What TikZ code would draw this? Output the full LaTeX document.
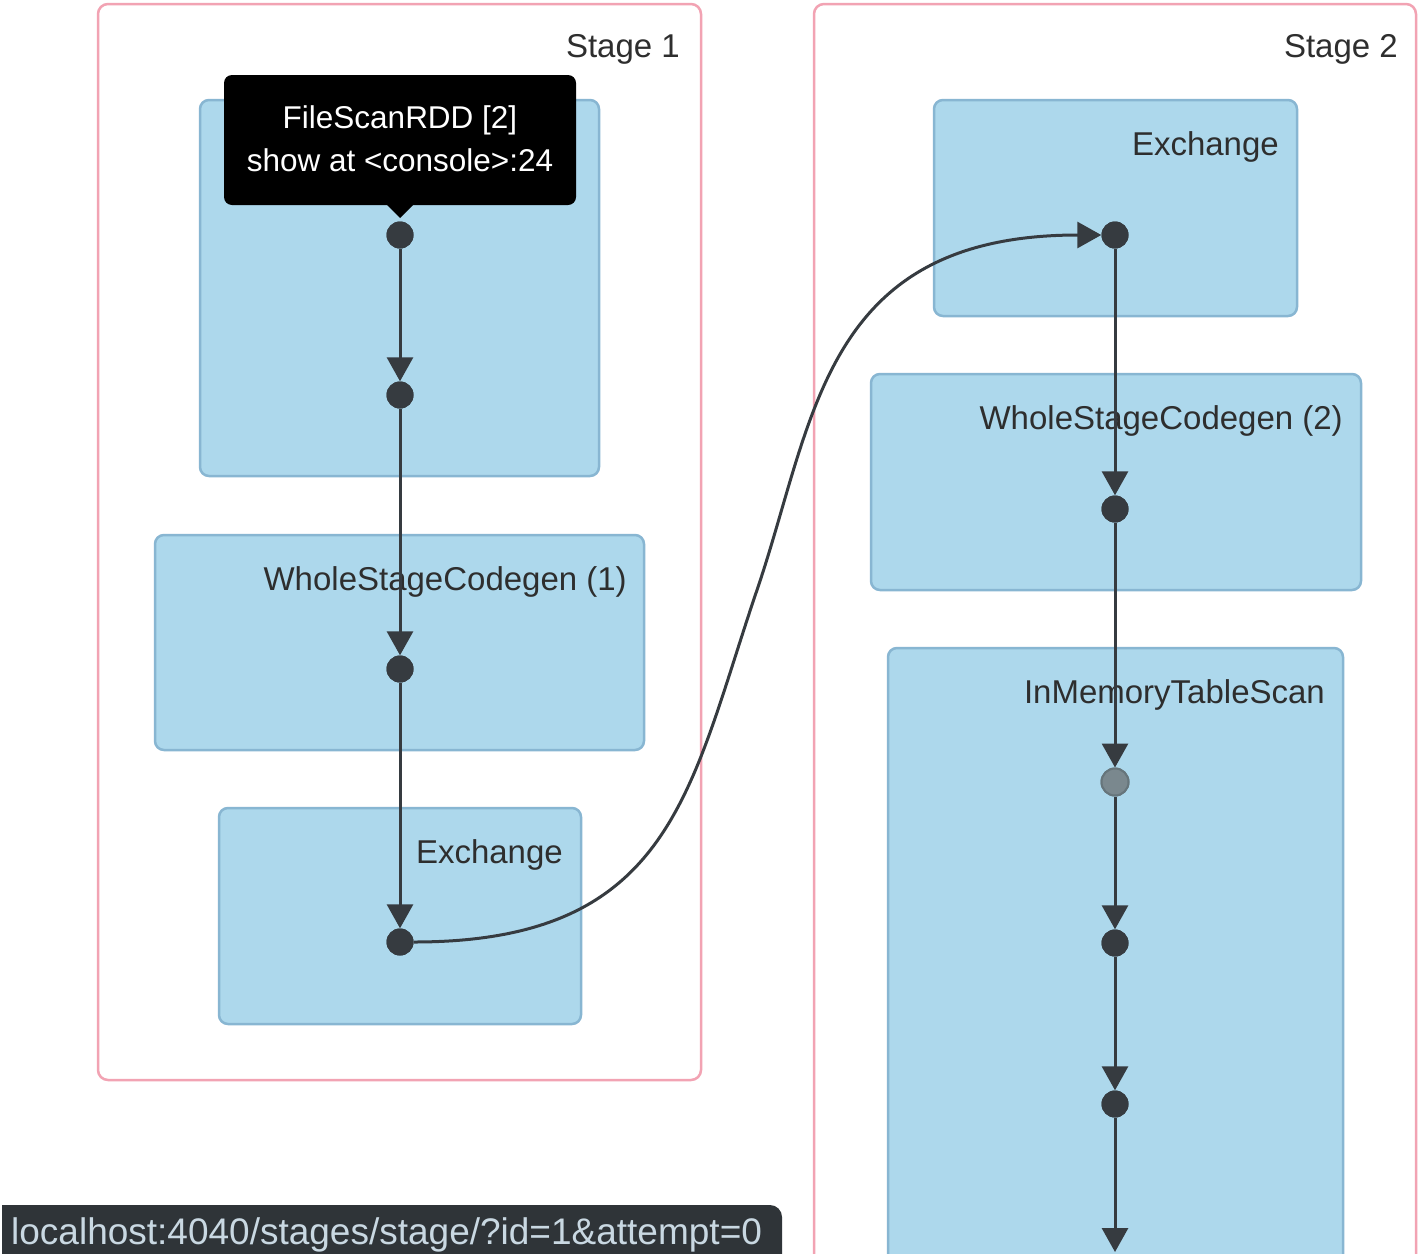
\documentclass[tikz,border=0pt]{standalone}
\usepackage{fontspec}
\setmainfont{Liberation Sans}
\usetikzlibrary{arrows.meta}
\definecolor{stagepink}{HTML}{F2A3B3}
\definecolor{opfill}{HTML}{ADD8EC}
\definecolor{opline}{HTML}{88B6D2}
\definecolor{edgedark}{HTML}{363B40}
\definecolor{labeltext}{HTML}{2E2E2E}
\definecolor{barfill}{HTML}{2F3438}
\definecolor{bartext}{HTML}{C9D8E2}
\definecolor{cachedot}{HTML}{7A888E}
\definecolor{cacherim}{HTML}{66757B}
\begin{document}
\begin{tikzpicture}[x=1pt,y=-1pt,
  stagebox/.style={draw=stagepink, line width=2.5pt, rounded corners=10pt},
  opbox/.style={draw=opline, fill=opfill, line width=2.5pt, rounded corners=9pt},
  oplabel/.style={anchor=base east, text=labeltext, inner sep=0pt,
    font=\fontsize{33}{40}\selectfont},
  rdd/.style={circle, fill=edgedark, minimum size=27pt, inner sep=0pt},
  cached/.style={circle, fill=cachedot, draw=cacherim, line width=2pt,
    minimum size=27pt, inner sep=0pt},
  flow/.style={draw=edgedark, line width=3pt,
    -{Triangle[length=24pt,width=26pt]}},
  tiptext/.style={anchor=base, text=white, inner sep=0pt,
    font=\fontsize{31.5}{38}\selectfont},
]
\useasboundingbox (0,0) rectangle (1421,1253);
\fill[white] (0,0) rectangle (1421,1253);
\clip (0,0) rectangle (1421,1253);

% stage frames
\draw[stagebox] (98,4) rectangle (701,1080);
\draw[stagebox] (814,4) rectangle (1416,1320);
\node[oplabel] (stage1) at (680,57) {Stage 1};
\node[oplabel] (stage2) at (1398,57) {Stage 2};

% operator clusters, stage 1
\draw[opbox] (200,100) rectangle (599,476);
\draw[opbox] (155,535) rectangle (644,750);
\node[oplabel] (wsc1) at (627,590) {WholeStageCodegen (1)};
\draw[opbox] (219,808) rectangle (581,1024);
\node[oplabel] (exch1) at (563,863) {Exchange};

% operator clusters, stage 2
\draw[opbox] (934,100) rectangle (1297,316);
\node[oplabel] (exch2) at (1279,155) {Exchange};
\draw[opbox] (871,374) rectangle (1361,590);
\node[oplabel] (wsc2) at (1343,429) {WholeStageCodegen (2)};
\draw[opbox] (888,648) rectangle (1343,1320);
\node[oplabel] (imts) at (1325,703) {InMemoryTableScan};

% RDD dots
\node[rdd] (a1) at (400,235) {};
\node[rdd] (a2) at (400,395) {};
\node[rdd] (a3) at (400,669) {};
\node[rdd] (a4) at (400,942) {};
\node[rdd] (b1) at (1115,235) {};
\node[rdd] (b2) at (1115,509) {};
\node[cached] (b3) at (1115,782) {};
\node[rdd] (b4) at (1115,943) {};
\node[rdd] (b5) at (1115,1104) {};
\coordinate (bout) at (1115,1252);
\coordinate (bend) at (757,590);

% edges
\draw[flow] (a1) -- (a2);
\draw[flow] (a2) -- (a3);
\draw[flow] (a3) -- (a4);
\draw[flow] (b1) -- (b2);
\draw[flow] (b2) -- (b3);
\draw[flow] (b3) -- (b4);
\draw[flow] (b4) -- (b5);
\draw[flow] (b5) -- (bout);
\draw[flow] (a4.east) .. controls (673,942) and (689,790) .. (bend)
  .. controls (815,420) and (822,235) .. (b1.west);

% redraw dots above line ends
\node[rdd] at (a1) {};
\node[rdd] at (a2) {};
\node[rdd] at (a3) {};
\node[rdd] at (a4) {};
\node[rdd] at (b1) {};
\node[rdd] at (b2) {};
\node[cached] at (b3) {};
\node[rdd] at (b4) {};
\node[rdd] at (b5) {};

% hover tooltip
\fill[black, rounded corners=8pt] (224,75) rectangle (576,205);
\fill[black] (386,204) -- (400,218) -- (414,204) -- cycle;
\node[tiptext] (tip1) at (400,128) {FileScanRDD [2]};
\node[tiptext] (tip2) at (400,171) {show at <console>:24};

% status bar
\fill[barfill] (2,1270) -- (2,1205) -- (770,1205)
  arc[start angle=-90, end angle=0, radius=12] -- (782,1270) -- cycle;
\node[anchor=base west, text=bartext, inner sep=0pt,
  font=\fontsize{37}{44}\selectfont] (url) at (11,1244)
  {localhost:4040/stages/stage/?id=1\&attempt=0};
\end{tikzpicture}
\end{document}
